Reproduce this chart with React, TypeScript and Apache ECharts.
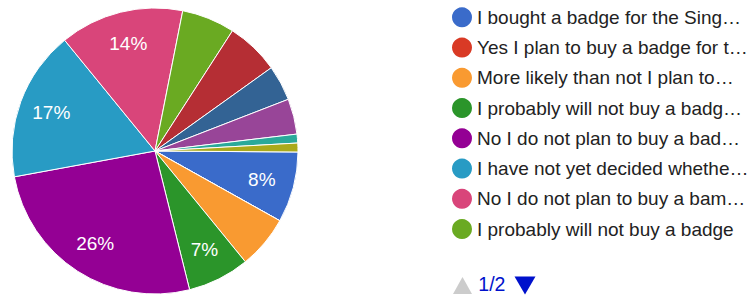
import React, { useEffect, useRef } from "react";
import * as echarts from "echarts";

// Answer categories, in legend order (the source's legend page 1 shows the first eight, truncated)
const categories: string[] = [
  "I bought a badge for the Sing…",
  "Yes I plan to buy a badge for t…",
  "More likely than not I plan to…",
  "I probably will not buy a badg…",
  "No I do not plan to buy a bad…",
  "I have not yet decided whethe…",
  "No I do not plan to buy a bam…",
  "I probably will not buy a badge",
  "Option 9",
  "Option 10",
  "Option 11",
  "Option 12",
  "Option 13",
];

// Responses per category
const values: number[] = [8, 0, 6, 7, 26, 17, 14, 6, 6, 4, 4, 1, 1];

// Legend page shown in the source, and its pager text
const legendPageSize = 8;
const pagerText = "1/2";

const colors: string[] = [
  "#3a6bca",
  "#d93a25",
  "#f99a31",
  "#2b952a",
  "#940094",
  "#289bc4",
  "#d9457a",
  "#6aaa22",
  "#b52e34",
  "#336394",
  "#984598",
  "#2aa99a",
  "#aaaa1c",
];

const FONT = 'Arial, "Liberation Sans", sans-serif';

export default function App() {
  const ref = useRef<HTMLDivElement>(null);

  useEffect(() => {
    if (!ref.current) return;
    const chart = echarts.init(ref.current, undefined, { renderer: "svg" });
    const data = categories.map((name, i) => ({
      name,
      value: values[i],
      itemStyle: { color: colors[i] },
    }));
    const labelData = categories.map((name, i) => ({ name, value: values[i] }));

    chart.setOption({
      animation: false,
      backgroundColor: "#ffffff",
      color: colors,
      legend: {
        type: "plain",
        orient: "vertical",
        left: 452,
        top: 7.3,
        padding: 0,
        icon: "circle",
        itemWidth: 20,
        itemHeight: 20,
        itemGap: 10.25,
        data: categories.slice(0, legendPageSize),
        itemStyle: { borderWidth: 0 },
        textStyle: {
          fontSize: 19,
          color: "#222222",
          fontFamily: FONT,
        },
      },
      graphic: [
        {
          type: "polygon",
          shape: { points: [[453, 294], [462.5, 277], [472, 294]] },
          style: { fill: "#cccccc" },
          silent: true,
        },
        {
          type: "text",
          x: 478.3,
          y: 294,
          style: {
            text: pagerText,
            fill: "#0011cc",
            font: `19.5px ${FONT}`,
            textVerticalAlign: "bottom",
            verticalAlign: "alphabetic",
            textBaseline: "alphabetic",
          },
          silent: true,
        },
        {
          type: "polygon",
          shape: { points: [[514.5, 276.5], [535.5, 276.5], [525, 294.5]] },
          style: { fill: "#0011cc" },
          silent: true,
        },
      ],
      series: [
        {
          type: "pie",
          center: [155, 151],
          radius: [0, 143],
          startAngle: -0.4,
          clockwise: true,
          avoidLabelOverlap: false,
          data,
          itemStyle: { borderColor: "#ffffff", borderWidth: 1 },
          label: { show: false },
          labelLine: { show: false },
          emphasis: { scale: false },
        },
        {
          type: "pie",
          center: [155, 151],
          radius: [72, 143],
          startAngle: -0.4,
          clockwise: true,
          avoidLabelOverlap: false,
          silent: true,
          legendHoverLink: false,
          data: labelData,
          itemStyle: { color: "rgba(0,0,0,0)", borderWidth: 0 },
          label: {
            show: true,
            position: "inner",
            color: "#ffffff",
            fontSize: 19,
            fontFamily: FONT,
            formatter: (p: any) =>
              p.percent >= 6.5 ? Math.round(p.percent) + "%" : "",
          },
          labelLine: { show: false },
          emphasis: { disabled: true },
        },
      ],
    });
    return () => chart.dispose();
  }, []);

  return (
    <div
      ref={ref}
      style={{ position: "fixed", left: 0, top: 0, width: 756, height: 297 }}
    />
  );
}
